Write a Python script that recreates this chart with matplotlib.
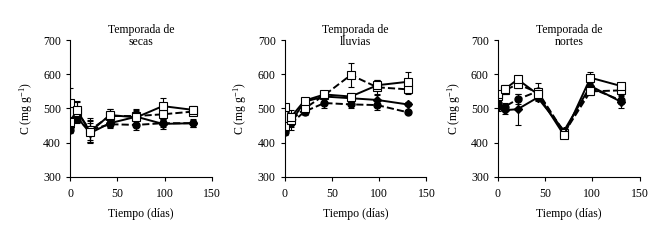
import numpy as np
import matplotlib
matplotlib.use('Agg')
import matplotlib.pyplot as plt

plt.rcParams['font.family'] = ['Liberation Serif', 'DejaVu Serif']
plt.rcParams['mathtext.fontset'] = 'custom'
plt.rcParams['mathtext.rm'] = 'Liberation Serif'
plt.rcParams['mathtext.it'] = 'Liberation Serif:italic'

# days of sampling
t = [0, 7, 21, 42, 70, 98, 130]

titles = ['Temporada de\nsecas', 'Temporada de\nlluvias', 'Temporada de\nnortes']

# secas
sec_sq_solid = [461, 496, 432, 481, 474, 507, 496]
sec_sq_dash = [517, 490, 437, 478, 478, 483, 491]
sec_fi_solid = [447, 476, 428, 457, 476, 455, 457]
sec_fi_dash = [437, 468, 437, 454, 452, 457, 457]
sec_err_sq_solid = [15, 25, 30, 18, 20, 25, 10]
sec_err_sq_dash = [42, 30, 30, 20, 20, 15, 10]
sec_err_fi_solid = [15, 12, 30, 10, 20, 15, 12]
sec_err_fi_dash = [10, 10, 35, 10, 15, 10, 10]

# lluvias
llu_sq_solid = [505, 476, 523, 541, 535, 568, 578]
llu_sq_dash = [448, 466, 500, 539, 598, 562, 556]
llu_fi_solid = [437, 462, 520, 535, 530, 525, 512]
llu_fi_dash = [430, 457, 491, 516, 512, 510, 489]
llu_err_sq_solid = [8, 20, 8, 8, 10, 15, 30]
llu_err_sq_dash = [8, 15, 10, 8, 35, 20, 15]
llu_err_fi_solid = [8, 25, 8, 8, 10, 15, 6]
llu_err_fi_dash = [8, 10, 10, 15, 12, 15, 6]

# nortes
nor_sq_solid = [542, 556, 585, 542, 422, 590, 566]
nor_sq_dash = [538, 553, 571, 547, 428, 550, 553]
nor_fi_solid = [503, 495, 498, 532, 435, 566, 520]
nor_fi_dash = [517, 505, 527, 550, 430, 560, 524]
nor_err_sq_solid = [10, 12, 10, 10, 8, 18, 10]
nor_err_sq_dash = [10, 10, 10, 10, 8, 10, 10]
nor_err_fi_solid = [10, 12, 45, 10, 8, 10, 20]
nor_err_fi_dash = [10, 10, 15, 25, 8, 10, 12]

data = [
    (sec_sq_solid, sec_sq_dash, sec_fi_solid, sec_fi_dash,
     sec_err_sq_solid, sec_err_sq_dash, sec_err_fi_solid, sec_err_fi_dash),
    (llu_sq_solid, llu_sq_dash, llu_fi_solid, llu_fi_dash,
     llu_err_sq_solid, llu_err_sq_dash, llu_err_fi_solid, llu_err_fi_dash),
    (nor_sq_solid, nor_sq_dash, nor_fi_solid, nor_fi_dash,
     nor_err_sq_solid, nor_err_sq_dash, nor_err_fi_solid, nor_err_fi_dash),
]

fig = plt.figure(figsize=(6.5, 2.43), dpi=100)
lefts = [0.108, 0.438, 0.766]

for i, left in enumerate(lefts):
    ax = fig.add_axes([left, 0.272, 0.218, 0.563])
    sq_s, sq_d, fi_s, fi_d, e1, e2, e3, e4 = data[i]
    kw = dict(color='black', lw=1.4, capsize=2, elinewidth=0.8, capthick=0.8)
    ax.errorbar(t, fi_d, yerr=e4, ls='--', marker='o', ms=5, mfc='black', **kw)
    ax.errorbar(t, fi_s, yerr=e3, ls='-', marker='D', ms=4.5, mfc='black', **kw)
    ax.errorbar(t, sq_d, yerr=e2, ls='--', marker='s', ms=6, mfc='white', mew=0.8, **kw)
    ax.errorbar(t, sq_s, yerr=e1, ls='-', marker='s', ms=6, mfc='white', mew=0.8, **kw)

    ax.set_xlim(0, 150)
    ax.set_ylim(300, 700)
    ax.set_xticks([0, 50, 100, 150])
    ax.set_yticks([300, 400, 500, 600, 700])
    ax.spines['top'].set_visible(False)
    ax.spines['right'].set_visible(False)
    ax.tick_params(labelsize=8.5, length=3, width=0.8, direction='out')
    ax.tick_params(axis='x', pad=5)
    ax.set_xlabel('Tiempo (días)', fontsize=8.5, labelpad=6)
    ax.set_ylabel('C (mg g$^{-1}$)', fontsize=8.5, labelpad=6)
    ax.text(0.5, 1.03, titles[i], transform=ax.transAxes, ha='center',
            va='center', fontsize=8.5, linespacing=1.1)

plt.savefig('out.png', dpi=100)
